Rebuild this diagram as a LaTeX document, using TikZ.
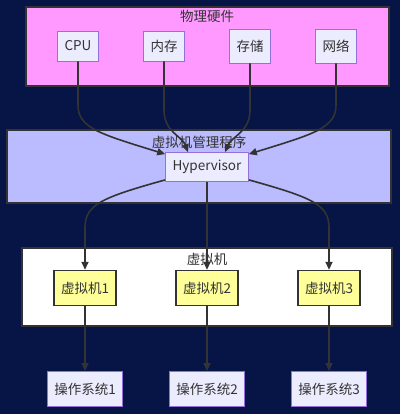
\documentclass[tikz,border=0pt]{standalone}
\usepackage{fontspec}
\setmainfont{Noto Sans CJK SC}
\usetikzlibrary{arrows.meta}
\definecolor{bgnavy}{RGB}{6,20,70}
\definecolor{edgegray}{HTML}{333333}
\definecolor{nodefill}{HTML}{ECECFF}
\definecolor{nodeline}{HTML}{9370DB}
\definecolor{hwpink}{HTML}{FF99FF}
\definecolor{vmmblue}{HTML}{BBBBFF}
\definecolor{vmyellow}{HTML}{FFFF99}
\tikzset{
  box/.style={draw=nodeline, fill=nodefill, line width=0.8pt, text=edgegray, inner xsep=7pt, minimum height=30pt},
  vmbox/.style={draw=edgegray, fill=vmyellow, line width=1.4pt, text=edgegray, inner xsep=7pt, minimum height=35pt},
  cluster/.style={draw=edgegray, line width=1.4pt},
  link/.style={draw=edgegray, line width=1.6pt, -{Triangle[length=8pt,width=7pt]}}
}
\begin{document}
\begin{tikzpicture}[x=1pt, y=-1pt, font=\fontsize{13.5}{15}\selectfont]
\fill[bgnavy] (0,0) rectangle (400,414);
\useasboundingbox (0,0) rectangle (400,414);
% clusters
\path[cluster, fill=hwpink] (26,7) rectangle (389,86);
\path[cluster, fill=vmmblue] (7,130) rectangle (391,203);
\path[cluster, fill=white] (22,248) rectangle (392,326);
\node[text=edgegray] (t1) at (207,16) {物理硬件};
\node[text=edgegray] (t2) at (199,142) {虚拟机管理程序};
\node[text=edgegray] (t3) at (207,259) {虚拟机};
% nodes
\node[box] (cpu) at (78,46) {CPU};
\node[box] (mem) at (164,46) {内存};
\node[box, minimum height=34pt] (disk) at (250,46) {存储};
\node[box, minimum height=34pt] (net) at (336,46) {网络};
\node[box, minimum height=29pt] (hv) at (207,167) {Hypervisor};
\node[vmbox] (vm1) at (85,288) {虚拟机1};
\node[vmbox] (vm2) at (207,288) {虚拟机2};
\node[vmbox] (vm3) at (329,288) {虚拟机3};
\node[box, minimum height=35pt] (os1) at (85,389) {操作系统1};
\node[box, minimum height=35pt] (os2) at (207,389) {操作系统2};
\node[box, minimum height=35pt] (os3) at (329,389) {操作系统3};
% edges
\path[link] (cpu.south) -- (78,105) .. controls (78,128) and (100,134) .. ([yshift=-2pt]hv.north west);
\path[link] (mem.south) -- (164,110) .. controls (164,132) and (182,136) .. ([xshift=-19pt]hv.north);
\path[link] (disk.south) -- (250,110) .. controls (250,132) and (232,136) .. ([xshift=18pt]hv.north);
\path[link] (net.south) -- (336,105) .. controls (336,128) and (314,134) .. ([yshift=-2pt]hv.north east);
\path[link] ([yshift=2pt]hv.south west) .. controls (100,198) and (85,205) .. (85,228) -- (vm1.north);
\path[link] (hv.south) -- (vm2.north);
\path[link] ([yshift=2pt]hv.south east) .. controls (314,198) and (329,205) .. (329,228) -- (vm3.north);
\path[link] (vm1) -- (os1);
\path[link] (vm2) -- (os2);
\path[link] (vm3) -- (os3);
\end{tikzpicture}
\end{document}
